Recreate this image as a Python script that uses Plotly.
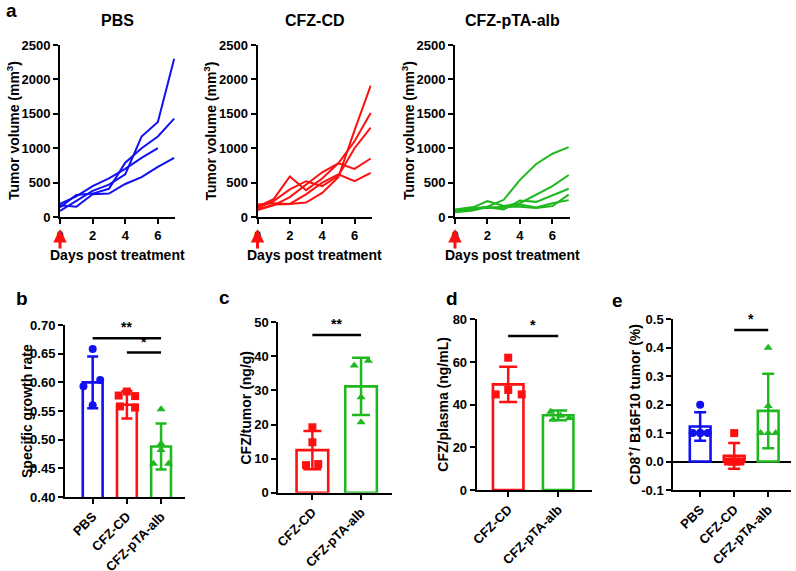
import plotly.graph_objects as go

W, H = 796, 571
FONT = "Liberation Sans, Arial, sans-serif"
BLUE = "#1010f0"
RED = "#ff1010"
GREEN = "#1fb81f"

# ---------------- data: panel a (tumour volume, mm^3) ----------------
days = [0, 1, 2, 3, 4, 5, 6, 7]
pbs_volumes = [
    [90, 230, 380, 470, 620, 1170, 1380, 2300],
    [140, 320, 340, 410, 790, 1000, 1170, 1430],
    [190, 300, 450, 560, 700, 860, 1000],
    [170, 150, 330, 340, 480, 580, 730, 860],
]
cd_volumes = [
    [110, 180, 190, 210, 350, 580, 1260, 1910],
    [150, 260, 590, 390, 560, 780, 1100, 1510],
    [130, 230, 400, 520, 450, 600, 1000, 1300],
    [100, 170, 290, 470, 650, 780, 700, 850],
    [180, 200, 190, 330, 500, 620, 520, 640],
]
alb_volumes = [
    [80, 110, 150, 250, 540, 770, 920, 1015],
    [100, 130, 230, 160, 200, 330, 450, 610],
    [90, 120, 140, 110, 240, 220, 320, 410],
    [110, 140, 130, 150, 150, 130, 160, 325],
    [70, 90, 140, 130, 180, 140, 200, 245],
]
panel_a_titles = ["PBS", "CFZ-CD", "CFZ-pTA-alb"]
vol_ticks = [0, 500, 1000, 1500, 2000, 2500]
day_ticks = [0, 2, 4, 6]

# ---------------- data: panel b (specific growth rate) ----------------
b_groups = ["PBS", "CFZ-CD", "CFZ-pTA-alb"]
b_mean = [0.600, 0.561, 0.488]
b_sd = [0.045, 0.024, 0.040]
b_pts = [[0.658, 0.604, 0.593, 0.560],
         [0.584, 0.577, 0.576, 0.558, 0.556],
         [0.553, 0.493, 0.482, 0.458, 0.458]]
b_jit = [[0, 0.22, -0.27, 0],
         [0, -0.24, 0.24, -0.2, 0.24],
         [0, 0, 0, -0.22, 0.22]]
b_sig = [(0, 2, 0.677, "**"), (1, 2, 0.652, "*")]
b_ticks = [0.40, 0.45, 0.50, 0.55, 0.60, 0.65, 0.70]

# ---------------- data: panel c (CFZ/tumor, ng/g) ----------------
c_groups = ["CFZ-CD", "CFZ-pTA-alb"]
c_mean = [12.5, 31.2]
c_sd = [5.6, 8.4]
c_pts = [[19.2, 14.8, 8.1, 8.4], [38.7, 37.3, 28.0, 20.7]]
c_jit = [[0, 0, -0.13, 0.12], [0.15, -0.14, 0, 0]]
c_sig = [(0, 1, 46.3, "**")]
c_ticks = [0, 10, 20, 30, 40, 50]

# ---------------- data: panel d (CFZ/plasma, ng/mL) ----------------
d_groups = ["CFZ-CD", "CFZ-pTA-alb"]
d_mean = [49.5, 35.0]
d_sd = [8.3, 2.3]
d_pts = [[62.0, 46.9, 44.8, 44.8], [36.7, 34.8, 33.0, 33.8]]
d_jit = [[0, 0, -0.25, 0.27], [-0.15, 0.05, -0.1, 0.22]]
d_sig = [(0, 1, 72.2, "*")]
d_ticks = [0, 20, 40, 60, 80]

# ---------------- data: panel e (CD8+ / B16F10 tumor, %) ----------------
e_groups = ["PBS", "CFZ-CD", "CFZ-pTA-alb"]
e_mean = [0.123, 0.020, 0.178]
e_sd = [0.050, 0.045, 0.131]
e_pts = [[0.20, 0.10, 0.10, 0.10, 0.10],
         [0.10, 0.0, 0.0, 0.0, 0.0],
         [0.40, 0.195, 0.10, 0.10, 0.10]]
e_jit = [[0, -0.22, 0, 0.22, 0],
         [0, -0.18, -0.06, 0.06, 0.18],
         [0, 0, -0.22, 0, 0.22]]
e_sig = [(1, 2, 0.4625, "*")]
e_ticks = [-0.1, 0.0, 0.1, 0.2, 0.3, 0.4, 0.5]

# ---------------- layout helpers (page pixels -> paper) ----------------
def px(x):
    return x / W

def py(y):
    return 1 - y / H

def xd(a, b):
    return [px(a), px(b)]

def yd(top, bottom):
    return [py(bottom), py(top)]

def bold(s):
    return f"<b>{s}</b>"

tickfont = dict(family=FONT, size=13, color="black")
axis_common = dict(showline=True, linecolor="black", linewidth=2, ticks="outside",
                   tickcolor="black", tickwidth=2, ticklen=5, showgrid=False,
                   zeroline=False, tickfont=tickfont, fixedrange=True)

def text_ann(text, x, y, size, angle=0):
    return dict(text=bold(text), x=px(x), y=py(y), xref="paper", yref="paper",
                xanchor="center", yanchor="middle", showarrow=False, textangle=angle,
                font=dict(family=FONT, size=size, color="black"))

fig = go.Figure()
layout = dict(width=W, height=H, margin=dict(l=0, r=0, t=0, b=0, autoexpand=False),
              paper_bgcolor="white", plot_bgcolor="white", showlegend=False)
annotations = []

# ---------------- panel a ----------------
a_x = [(60, 175), (257.5, 371.5), (455, 569.5)]
a_y = (45, 217)
groups_a = [(pbs_volumes, BLUE), (cd_volumes, RED), (alb_volumes, GREEN)]
for i, ((vols, col), (x0, x1)) in enumerate(zip(groups_a, a_x)):
    n = i + 1
    for v in vols:
        fig.add_trace(go.Scatter(x=days[:len(v)], y=v, mode="lines",
                                 line=dict(color=col, width=2),
                                 xaxis=f"x{n}", yaxis=f"y{n}", hoverinfo="skip"))
    layout[f"xaxis{n}"] = dict(axis_common, domain=xd(x0, x1), range=[0, 7.05],
                               tickvals=day_ticks, ticktext=[bold(t) for t in day_ticks],
                               anchor=f"y{n}")
    layout[f"yaxis{n}"] = dict(axis_common, domain=yd(*a_y), range=[0, 2500],
                               tickvals=vol_ticks, ticktext=[bold(t) for t in vol_ticks],
                               anchor=f"x{n}")
    cx = (x0 + x1) / 2
    annotations.append(text_ann(panel_a_titles[i], cx, 20, 16))
    annotations.append(text_ann("Days post treatment", cx, 255, 14))
    annotations.append(text_ann("Tumor volume (mm<sup>3</sup>)", x0 - 47, 131, 14, -90))
    # red treatment arrow at day 0
    annotations.append(dict(text="", x=days[0], xref=f"x{n}", y=py(229), yref="paper",
                            showarrow=True, ax=0, ay=21, arrowhead=2, arrowsize=0.9,
                            arrowwidth=3, arrowcolor=RED))

annotations.append(text_ann("a", 11, 11, 19))

# ---------------- bar panels ----------------
symbols = {"PBS": "circle", "CFZ-CD": "square", "CFZ-pTA-alb": "triangle-up"}
colors = {"PBS": BLUE, "CFZ-CD": RED, "CFZ-pTA-alb": GREEN}

def bar_panel(n, groups, means, sds, pts, jit, sig, xdom, ydom, xrange, yrange, yticks,
              ytick_fmt, bwidth, capw, ytitle, ytitle_x, label, label_xy, zline=False):
    xs = list(range(len(groups)))
    for i, g in enumerate(groups):
        fig.add_trace(go.Bar(x=[xs[i]], y=[means[i]], width=bwidth,
                             marker=dict(color="rgba(0,0,0,0)",
                                         line=dict(color=colors[g], width=2.6)),
                             error_y=dict(type="data", array=[sds[i]], arrayminus=[sds[i]],
                                          color=colors[g], thickness=2.5, width=capw),
                             xaxis=f"x{n}", yaxis=f"y{n}", hoverinfo="skip"))
        fig.add_trace(go.Scatter(x=[xs[i] + j for j in jit[i]], y=pts[i], mode="markers",
                                 marker=dict(symbol=symbols[g], color=colors[g], size=8,
                                             line=dict(width=0)),
                                 xaxis=f"x{n}", yaxis=f"y{n}", hoverinfo="skip",
                                 cliponaxis=False))
    for (g0, g1, yv, txt) in sig:
        fig.add_trace(go.Scatter(x=[xs[g0], xs[g1]], y=[yv, yv], mode="lines",
                                 line=dict(color="black", width=2.5),
                                 xaxis=f"x{n}", yaxis=f"y{n}", hoverinfo="skip",
                                 cliponaxis=False))
        annotations.append(dict(text=bold(txt), x=(xs[g0] + xs[g1]) / 2, y=yv, xref=f"x{n}",
                                yref=f"y{n}", showarrow=False, xanchor="center",
                                yanchor="bottom", yshift=1,
                                font=dict(family=FONT, size=14, color="black")))
    xa = dict(axis_common, domain=xd(*xdom), range=xrange, tickvals=xs,
              ticktext=[bold(g) for g in groups], tickangle=-45, anchor=f"y{n}")
    ya = dict(axis_common, domain=yd(*ydom), range=yrange, tickvals=yticks,
              ticktext=[bold(ytick_fmt.format(t)) for t in yticks], anchor=f"x{n}")
    if zline:
        ya["zeroline"] = True
        ya["zerolinecolor"] = "black"
        ya["zerolinewidth"] = 2
    layout[f"xaxis{n}"] = xa
    layout[f"yaxis{n}"] = ya
    annotations.append(text_ann(ytitle, ytitle_x, (ydom[0] + ydom[1]) / 2, 14, -90))
    annotations.append(text_ann(label, label_xy[0], label_xy[1], 19))

bar_panel(4, b_groups, b_mean, b_sd, b_pts, b_jit, b_sig, (65, 185), (325, 497),
          [-0.81, 2.7], [0.40, 0.70], b_ticks, "{:.2f}",
          0.58, 5.5, "Specific growth rate", 27, "b", (22, 298))
bar_panel(5, c_groups, c_mean, c_sd, c_pts, c_jit, c_sig, (278.3, 391.7), (322.3, 492.7),
          [-0.70, 1.63], [0, 50], c_ticks, "{}",
          0.65, 9, "CFZ/tumor (ng/g)", 245, "c", (225, 297))
bar_panel(6, d_groups, d_mean, d_sd, d_pts, d_jit, d_sig, (476.7, 591.7), (319.3, 490),
          [-0.63, 1.67], [0, 80], d_ticks, "{}",
          0.61, 9, "CFZ/plasma (ng/mL)", 443, "d", (452, 298))
bar_panel(7, e_groups, e_mean, e_sd, e_pts, e_jit, e_sig, (673.3, 791), (319.3, 490),
          [-0.79, 2.67], [-0.1, 0.5], e_ticks, "{:.1f}",
          0.61, 6, "CD8<sup>+</sup>/ B16F10 tumor (%)", 634, "e", (617, 300),
          zline=True)

layout["annotations"] = annotations
layout["barmode"] = "overlay"
fig.update_layout(**layout)
fig.write_html("out.html", config={"displayModeBar": False, "staticPlot": True},
               post_script="document.body.style.margin='0';document.body.style.overflow='hidden';")
